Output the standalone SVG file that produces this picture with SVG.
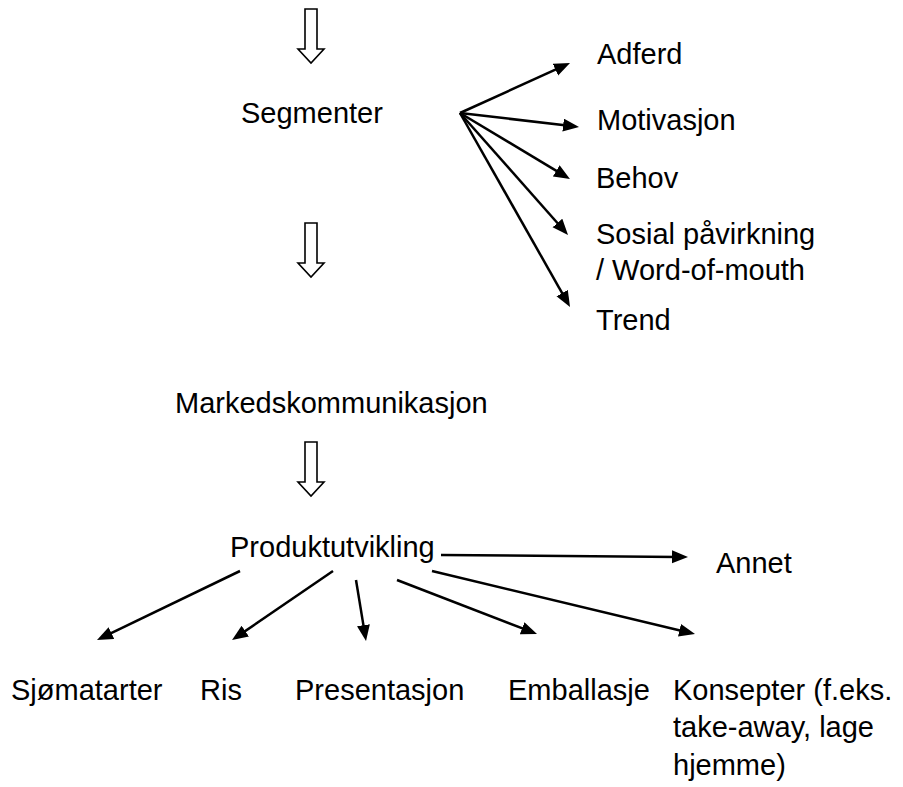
<svg xmlns="http://www.w3.org/2000/svg" width="903" height="787" viewBox="0 0 903 787">
<style>
  text { font-family: "Liberation Sans", Arial, sans-serif; font-size: 29px; fill: #000; }
  .hollow { fill: #fff; stroke: #000; stroke-width: 1.6; stroke-linejoin: miter; }
  .conn { stroke: #000; stroke-width: 2.5; fill: none; marker-end: url(#ah); }
</style>
<defs>
  <marker id="ah" markerUnits="userSpaceOnUse" markerWidth="18" markerHeight="14" refX="6" refY="6.5" orient="auto">
    <path d="M0,0 L16,6.5 L0,13 z" fill="#000"/>
  </marker>
  <path id="hollowArrow" d="M-6,0 L6,0 L6,40 L13,40 L0,54 L-13,40 L-6,40 Z"/>
</defs>
<rect width="903" height="787" fill="#fff"/>

<g id="flow-arrows">
  <use href="#hollowArrow" class="hollow" x="311" y="9"/>
  <use href="#hollowArrow" class="hollow" x="311" y="223"/>
  <use href="#hollowArrow" class="hollow" x="311" y="442"/>
</g>

<g id="connectors">
  <line class="conn" x1="460" y1="113" x2="560.9" y2="67.1"/>
  <line class="conn" x1="460" y1="113" x2="569.1" y2="125.8"/>
  <line class="conn" x1="460" y1="113" x2="561.4" y2="173.9"/>
  <line class="conn" x1="460" y1="113" x2="561.4" y2="227.5"/>
  <line class="conn" x1="460" y1="113" x2="565.1" y2="298.3"/>

  <line class="conn" x1="240" y1="571" x2="106.0" y2="635.7"/>
  <line class="conn" x1="333" y1="571" x2="240.3" y2="634.4"/>
  <line class="conn" x1="356" y1="580" x2="364.4" y2="631.1"/>
  <line class="conn" x1="397" y1="580" x2="527.7" y2="630.4"/>
  <line class="conn" x1="432" y1="571" x2="685.3" y2="631.7"/>
  <line class="conn" x1="441" y1="555" x2="678" y2="556.9"/>
</g>

<g id="segmenter"><text x="241" y="123">Segmenter</text></g>
<g id="adferd"><text x="597" y="64">Adferd</text></g>
<g id="motivasjon"><text x="597" y="130">Motivasjon</text></g>
<g id="behov"><text x="596" y="188">Behov</text></g>
<g id="sosial"><text x="596" y="244">Sosial påvirkning</text><text x="596" y="280">/ Word-of-mouth</text></g>
<g id="trend"><text x="596" y="330">Trend</text></g>
<g id="markedskommunikasjon"><text x="175" y="413">Markedskommunikasjon</text></g>
<g id="produktutvikling"><text x="230" y="557">Produktutvikling</text></g>
<g id="annet"><text x="716" y="573">Annet</text></g>
<g id="sjomatarter"><text x="11" y="700">Sjømatarter</text></g>
<g id="ris"><text x="200" y="700">Ris</text></g>
<g id="presentasjon"><text x="295" y="700">Presentasjon</text></g>
<g id="emballasje"><text x="508" y="700">Emballasje</text></g>
<g id="konsepter"><text x="673" y="700">Konsepter (f.eks.</text><text x="673" y="737">take-away, lage</text><text x="673" y="775">hjemme)</text></g>
</svg>
